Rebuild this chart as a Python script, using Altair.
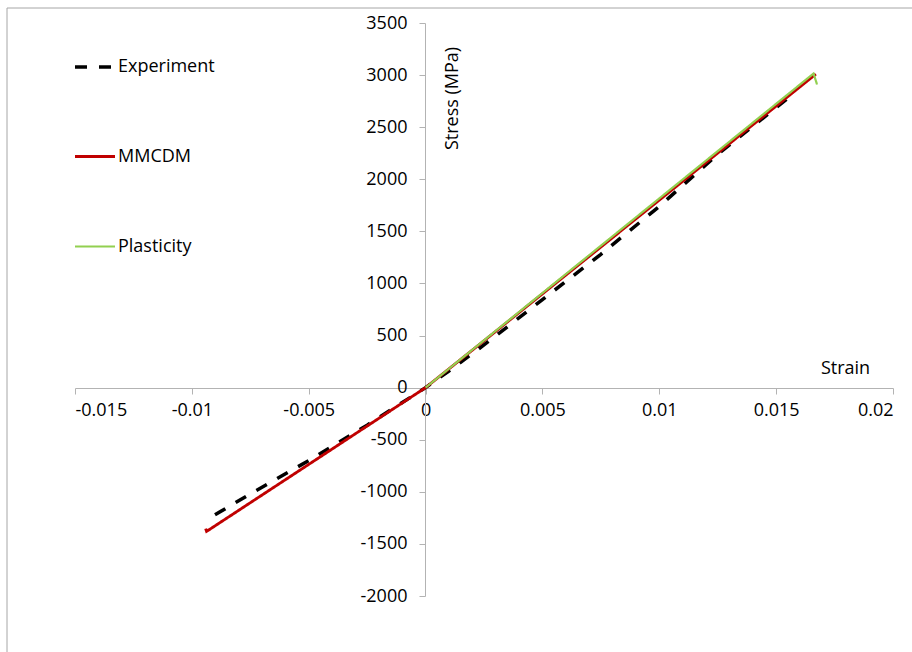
import altair as alt
import pandas as pd

# Stress-strain curves (strain in mm/mm, stress in MPa)
exp_strain = [-0.00901, -0.0075, -0.005, -0.0025, 0.0, 0.001, 0.0025, 0.005, 0.0075, 0.01, 0.0125, 0.0158]
exp_stress = [-1220, -1020, -700, -360, 0, 160, 410, 845, 1280, 1740, 2240, 2830]

mmcdm_strain = [-0.00941, -0.00937, -0.005, 0.0, 0.005, 0.01, 0.0167]
mmcdm_stress = [-1353, -1380, -737, 0, 900, 1800, 3010]

plast_strain = [0.0, 0.005, 0.01, 0.0166, 0.01675]
plast_stress = [0, 908, 1816, 3015, 2910]

series_names = ["Experiment", "MMCDM", "Plasticity"]
series_colors = ["#000000", "#c00000", "#92d050"]

x_ticks = [-0.015, -0.01, -0.005, 0, 0.005, 0.01, 0.015, 0.02]
y_ticks = [-2000, -1500, -1000, -500, 0, 500, 1000, 1500, 2000, 2500, 3000, 3500]

rows = []
for name, xs, ys in zip(series_names,
                        [exp_strain, mmcdm_strain, plast_strain],
                        [exp_stress, mmcdm_stress, plast_stress]):
    for i, (sx, sy) in enumerate(zip(xs, ys)):
        rows.append({"series": name, "strain": sx, "stress": sy, "idx": i})
df = pd.DataFrame(rows)

FONT = "Open Sans"
FS = 18
AXIS_GRAY = "#b3b3b3"
# plain hyphen for negative tick labels
HYPHEN_LABEL = "replace(datum.label, '\u2212', '-')"

x_enc = alt.X(
    "strain:Q",
    scale=alt.Scale(domain=[-0.015, 0.02], nice=False, zero=False),
    axis=alt.Axis(
        values=x_ticks, format="~g", labelExpr=HYPHEN_LABEL, grid=False,
        orient="bottom", offset=-208,
        domainColor=AXIS_GRAY, tickColor=AXIS_GRAY, tickSize=6, labelPadding=7,
        labelFont=FONT, labelFontSize=FS, labelColor="#000000",
        title="Strain", titleFont=FONT, titleFontSize=FS, titleFontWeight="normal",
        titleColor="#000000", titleX=770, titleY=-20, titleAlign="center",
        titleBaseline="middle",
    ),
)
y_enc = alt.Y(
    "stress:Q",
    scale=alt.Scale(domain=[-2000, 3500], nice=False, zero=False),
    axis=alt.Axis(
        values=y_ticks, format="d", labelExpr=HYPHEN_LABEL, grid=False,
        orient="left", offset=-350,
        domainColor=AXIS_GRAY, tickColor=AXIS_GRAY, tickSize=6, labelPadding=12,
        labelFont=FONT, labelFontSize=FS, labelColor="#000000",
        title="Stress (MPa)", titleFont=FONT, titleFontSize=FS, titleFontWeight="normal",
        titleColor="#000000", titleAngle=270, titleX=27, titleY=75,
        titleAlign="center", titleBaseline="middle",
    ),
)

legend_props = dict(
    title=None, orient="none", legendX=-2, legendY=22, direction="vertical",
    symbolType="stroke", symbolSize=1600, symbolStrokeWidth=3.5,
    labelFont=FONT, labelFontSize=FS, labelColor="#000000", labelOffset=1,
    rowPadding=59, padding=0,
)

lines = alt.Chart(df).mark_line(strokeCap="butt", strokeJoin="miter").encode(
    x=x_enc,
    y=y_enc,
    order="idx:Q",
    detail="series:N",
    color=alt.Color(
        "series:N",
        scale=alt.Scale(domain=series_names, range=series_colors),
        sort=series_names,
        legend=alt.Legend(**legend_props),
    ),
    strokeDash=alt.StrokeDash(
        "series:N",
        scale=alt.Scale(domain=series_names, range=[[12, 12], [1, 0], [1, 0]]),
        sort=series_names,
        legend=alt.Legend(**legend_props),
    ),
    strokeWidth=alt.StrokeWidth(
        "series:N",
        scale=alt.Scale(domain=series_names, range=[3.5, 2.2, 3]),
        legend=None,
    ),
)

# Outer chart frame, anchored beyond the right and bottom edges of the page
frame = alt.Chart(pd.DataFrame({"k": [0]})).mark_rect(
    fill=None, stroke="#a6a6a6", strokeWidth=1
).encode(
    x=alt.value(-68), x2=alt.value(900), y=alt.value(-15), y2=alt.value(700)
)

chart = alt.layer(frame, lines).properties(
    width=818,
    height=573,
    padding={"left": 75, "top": 23, "right": 19, "bottom": 56},
    autosize=alt.AutoSizeParams(type="none"),
    background="#ffffff",
).configure_view(stroke=None)

chart.save("out.html", embed_options={"renderer": "svg", "actions": False})
